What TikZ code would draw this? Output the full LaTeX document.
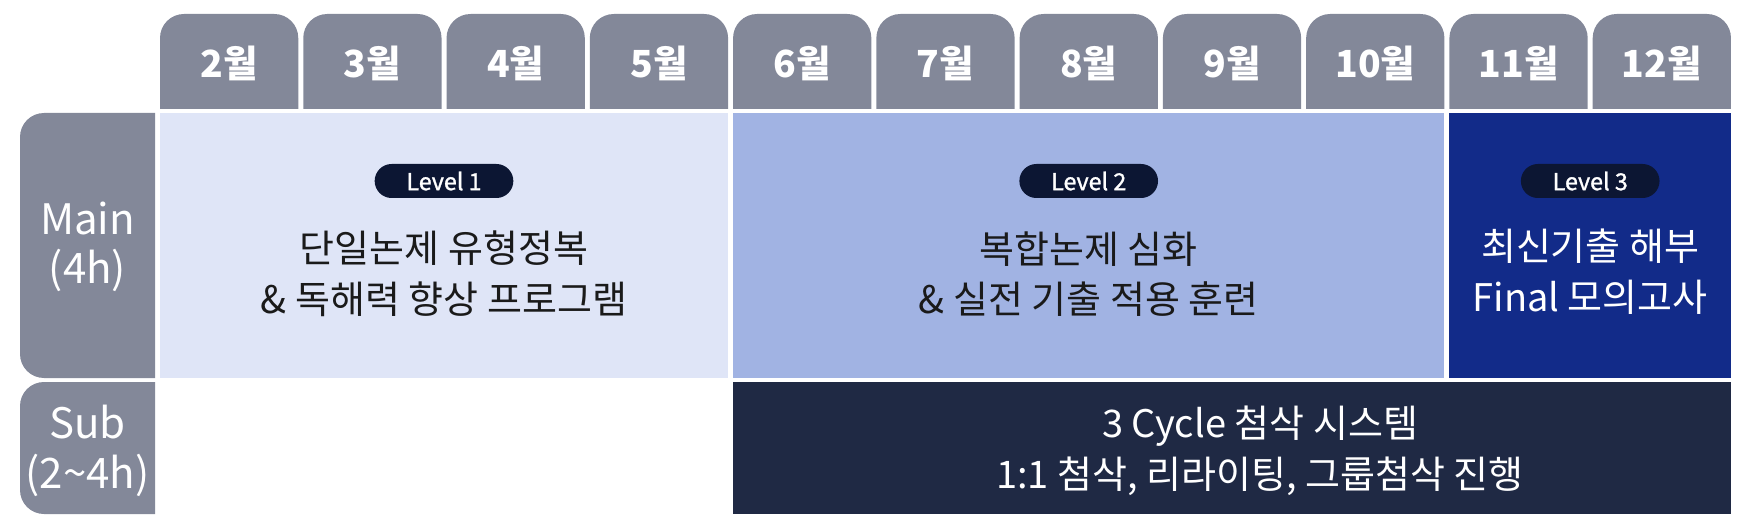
\documentclass[tikz,border=0pt]{standalone}
\usepackage{fontspec}
\setmainfont{Noto Sans CJK KR}
\newfontfamily\pillfont[FakeBold=1.2]{Noto Sans CJK KR}
\usepackage{xcolor}
\usetikzlibrary{positioning}

\definecolor{tabgray}{HTML}{838899}
\definecolor{lvlone}{HTML}{DFE5F7}
\definecolor{lvltwo}{HTML}{A1B3E3}
\definecolor{lvlthree}{HTML}{122B89}
\definecolor{subnavy}{HTML}{1F2944}
\definecolor{pillnavy}{HTML}{0C1633}
\definecolor{bodyink}{HTML}{1A1A1A}

\tikzset{
  month/.style={text=white, font=\fontsize{28}{30}\selectfont\bfseries},
  rowlabel/.style={text=white, align=center, font=\fontsize{31.5}{37}\selectfont},
  pill/.style={fill=pillnavy, text=white, rounded corners=12.75pt, minimum width=104pt, minimum height=25.5pt, inner sep=0pt, font=\pillfont\fontsize{17.5}{18}\selectfont},
  body/.style={align=center, font=\fontsize{28.5}{38}\selectfont}
}

\begin{document}
\begin{tikzpicture}[x=0.75pt,y=-0.75pt]
\useasboundingbox (0,0) rectangle (1746,524);

% TOP %
%%%%%%%%%%%%  month tabs %%%%%%%%%%%%%
{
\foreach \mon [count=\i from 0] in {2,...,12}
{
\fill[tabgray] ({160+143.27*\i},109) [rounded corners=18pt] -- ({160+143.27*\i},14) -- ({298.27+143.27*\i},14) [sharp corners] -- ({298.27+143.27*\i},109) -- cycle;
\node[month] (m\mon) at ({229.1+143.27*\i},63) {\mon{}월};
}
}

% LEFT %
%%%%%%%%%%%%  row labels %%%%%%%%%%%%%
{
\fill[tabgray] (155,378) [rounded corners=18pt] -- (20,378) -- (20,113) [sharp corners] -- (155,113) -- cycle;
\fill[tabgray] (155,514) [rounded corners=18pt] -- (20,514) -- (20,382) [sharp corners] -- (155,382) -- cycle;

\node[rowlabel] (mainlbl) at (87.5,247) {Main\\(4h)};
\node[rowlabel] (sublbl) at (87.5,451) {Sub\\(2\textasciitilde4h)};
}

% colors
{
\fill[lvlone] (160,113) rectangle (728,378);
\fill[lvltwo] (733,113) rectangle (1444.4,378);
\fill[lvlthree] (1449.4,113) rectangle (1731,378);
\fill[subnavy] (733,382) rectangle (1731,514);
}

% labellings
{
\node[pill] (lv1) at (444,181) {Level 1};
\node[pill] (lv2) at (1088.7,181) {Level 2};
\node[pill] (lv3) at (1590.2,181) {Level 3};

\node[body, text=bodyink] (main1) at (444,274) {단일논제 유형정복\\\& 독해력 향상 프로그램};
\node[body, text=bodyink] (main2) at (1088.7,274) {복합논제 심화\\\& 실전 기출 적용 훈련};
\node[body, text=white] (main3) at (1590.2,272) {최신기출 해부\\Final 모의고사};

\node[body, text=white] (sub) at (1260,451) {3 Cycle 첨삭 시스템\\1:1 첨삭, 리라이팅, 그룹첨삭 진행};
}

\end{tikzpicture}
\end{document}
